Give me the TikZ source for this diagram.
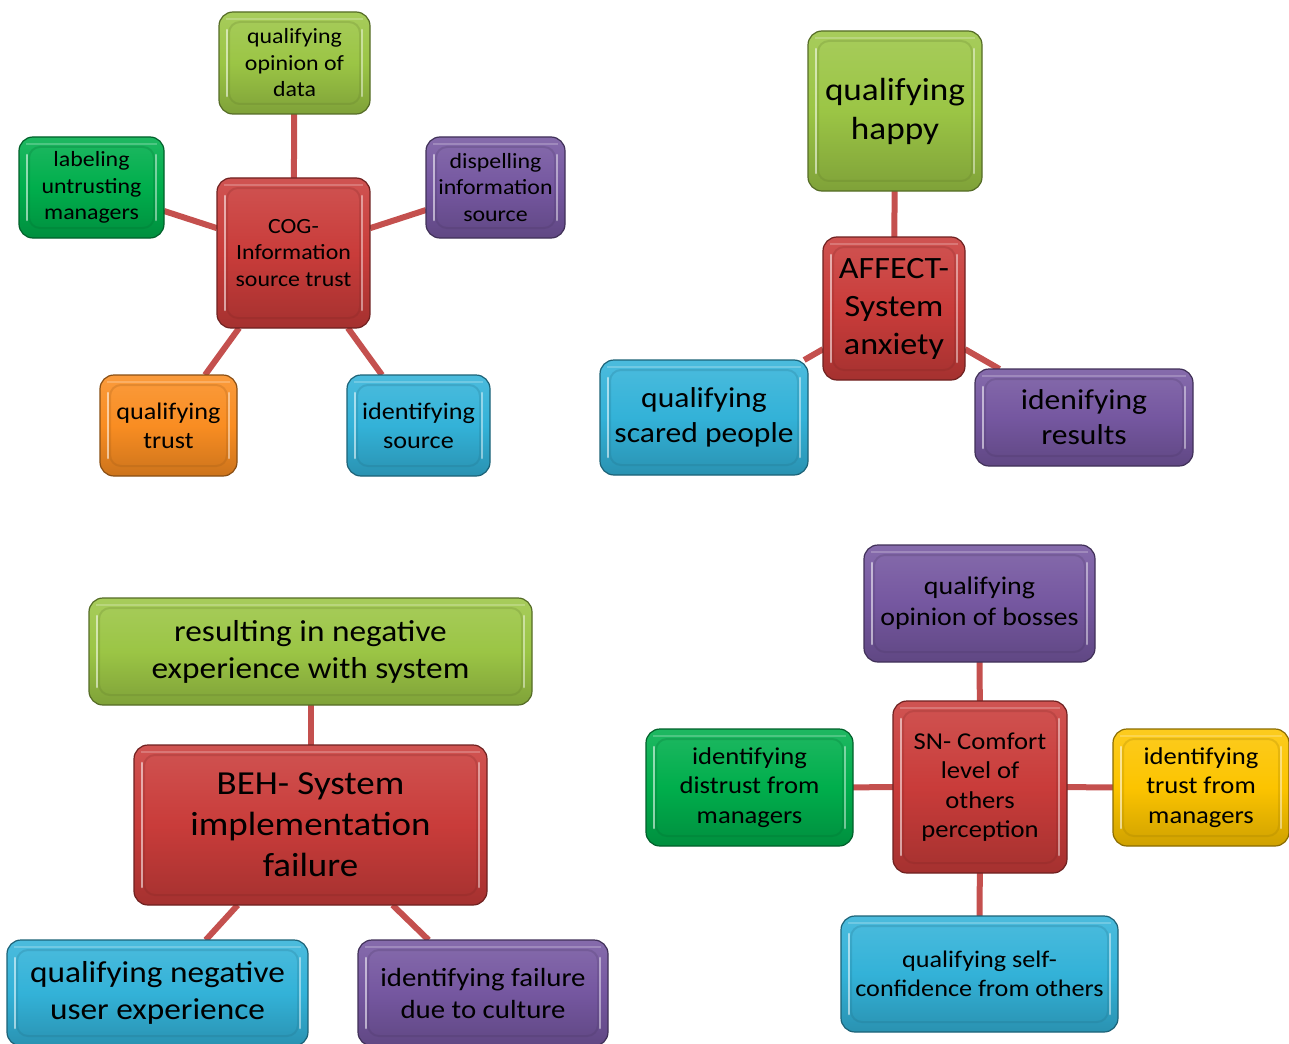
\documentclass[tikz,border=0pt]{standalone}
\usepackage{fontspec}
\setmainfont{Carlito}[FakeStretch=1.1]
\usetikzlibrary{backgrounds,calc}

\definecolor{cOlive}{HTML}{9BC545}
\definecolor{cRed}{HTML}{C93C3A}
\definecolor{cPurple}{HTML}{7557A0}
\definecolor{cBlue}{HTML}{33B2D8}
\definecolor{cGreen}{HTML}{00AE4C}
\definecolor{cOrange}{HTML}{F98D22}
\definecolor{cYellow}{HTML}{FCC400}
\definecolor{cLink}{HTML}{C4504E}

\newcommand\szf[2]{\fontsize{#1}{#2}\selectfont}

\tikzset{
  box/.style={
    draw=#1!55!black, line width=1.2pt, rounded corners=14pt,
    top color=#1!88!white, bottom color=#1!82!black, middle color=#1,
    inner sep=0pt, outer sep=0pt, align=center, text=black,
    path picture={
      % soft inner rim of the bevel
      \draw[#1!60!black, opacity=.22, line width=2pt, rounded corners=11pt]
        ($(path picture bounding box.north west)+(10pt,-10pt)$) rectangle
        ($(path picture bounding box.south east)+(-10pt,10pt)$);
      \draw[white, opacity=.22, line width=2pt, rounded corners=12pt]
        ($(path picture bounding box.north west)+(7pt,-7pt)$) --
        ($(path picture bounding box.north east)+(-7pt,-7pt)$);
      % bright vertical glints on the left and right sides
      \draw[white, opacity=.55, line width=2.6pt, line cap=round]
        ($(path picture bounding box.north west)+(8pt,-18pt)$) --
        ($(path picture bounding box.south west)+(8pt,18pt)$);
      \draw[white, opacity=.45, line width=2.6pt, line cap=round]
        ($(path picture bounding box.north east)+(-8pt,-18pt)$) --
        ($(path picture bounding box.south east)+(-8pt,18pt)$);
    }},
  link/.style={draw=cLink, line width=6pt},
}

\begin{document}
\begin{tikzpicture}[x=1pt, y=-1pt]
\useasboundingbox (0,0) rectangle (1289,1043);

% cognitive cluster
\node[box=cOlive, minimum width=151pt, minimum height=102pt, font=\szf{21.7}{26.5}] (data) at (294.5,63) {qualifying\\opinion of\\data};
\node[box=cGreen, minimum width=145pt, minimum height=101pt, font=\szf{21.7}{26.5}] (label) at (91.5,187.5) {labeling\\untrusting\\managers};
\node[box=cRed, minimum width=153pt, minimum height=150pt, font=\szf{21.7}{26.5}] (cog) at (293.5,253) {COG-\\Information\\source trust};
\node[box=cPurple, minimum width=139pt, minimum height=101pt, font=\szf{21.7}{26.5}] (disp) at (495.5,187.5) {dispelling\\information\\source};
\node[box=cOrange, minimum width=137pt, minimum height=101pt, font=\szf{23.8}{29}] (qtrust) at (168.5,425.5) {qualifying\\trust};
\node[box=cBlue, minimum width=143pt, minimum height=101pt, font=\szf{23.8}{29}] (isrc) at (418.5,425.5) {identifying\\source};

% affective cluster
\node[box=cOlive, minimum width=174pt, minimum height=160pt, font=\szf{32}{39}] (happy) at (895,111) {qualifying\\happy};
\node[box=cRed, minimum width=142pt, minimum height=143pt, font=\szf{31}{38}] (affect) at (894,308.5) {AFFECT-\\System\\anxiety};
\node[box=cBlue, minimum width=208pt, minimum height=115pt, font=\szf{28.7}{35}] (scared) at (704,417.5) {qualifying\\scared people};
\node[box=cPurple, minimum width=218pt, minimum height=97pt, font=\szf{28.7}{35}] (results) at (1084,417.5) {idenifying\\results};

% behavioural cluster
\node[box=cOlive, minimum width=443pt, minimum height=107pt, font=\szf{30.3}{37}] (negexp) at (310.5,651.5) {resulting in negative\\experience with system};
\node[box=cRed, minimum width=353pt, minimum height=160pt, font=\szf{33.6}{41}] (beh) at (310.5,825) {BEH- System\\implementation\\failure};
\node[box=cBlue, minimum width=301pt, minimum height=106pt, font=\szf{30.3}{37}] (qneg) at (157.5,993) {qualifying negative\\user experience};
\node[box=cPurple, minimum width=250pt, minimum height=106pt, font=\szf{26.2}{32}] (fail) at (483,993) {identifying failure\\due to culture};

% social norm cluster
\node[box=cPurple, minimum width=231pt, minimum height=117pt, font=\szf{25.4}{31}] (bosses) at (979.5,603.5) {qualifying\\opinion of bosses};
\node[box=cRed, minimum width=174pt, minimum height=172pt, font=\szf{24.2}{29.5}] (sn) at (980,787) {SN- Comfort\\level of\\others\\perception};
\node[box=cGreen, minimum width=207pt, minimum height=117pt, font=\szf{24.2}{29.5}] (distrust) at (749.5,787.5) {identifying\\distrust from\\managers};
\node[box=cYellow, minimum width=176pt, minimum height=117pt, font=\szf{24.2}{29.5}] (trustm) at (1201,787.5) {identifying\\trust from\\managers};
\node[box=cBlue, minimum width=277pt, minimum height=116pt, font=\szf{23.8}{29}] (self) at (979.5,974) {qualifying self-\\confidence from others};

\begin{scope}[on background layer]
  \draw[link] (cog) -- (data);
  \draw[link] (cog) -- (label);
  \draw[link] (cog) -- (disp);
  \draw[link] (cog) -- (qtrust);
  \draw[link] (cog) -- (isrc);
  \draw[link] (affect) -- (happy);
  \draw[link] (affect) -- (scared);
  \draw[link] (affect) -- (results);
  \draw[link] (beh) -- (negexp);
  \draw[link] (beh) -- (qneg);
  \draw[link] (beh) -- (fail);
  \draw[link] (sn) -- (bosses);
  \draw[link] (sn) -- (distrust);
  \draw[link] (sn) -- (trustm);
  \draw[link] (sn) -- (self);
\end{scope}
\end{tikzpicture}
\end{document}
